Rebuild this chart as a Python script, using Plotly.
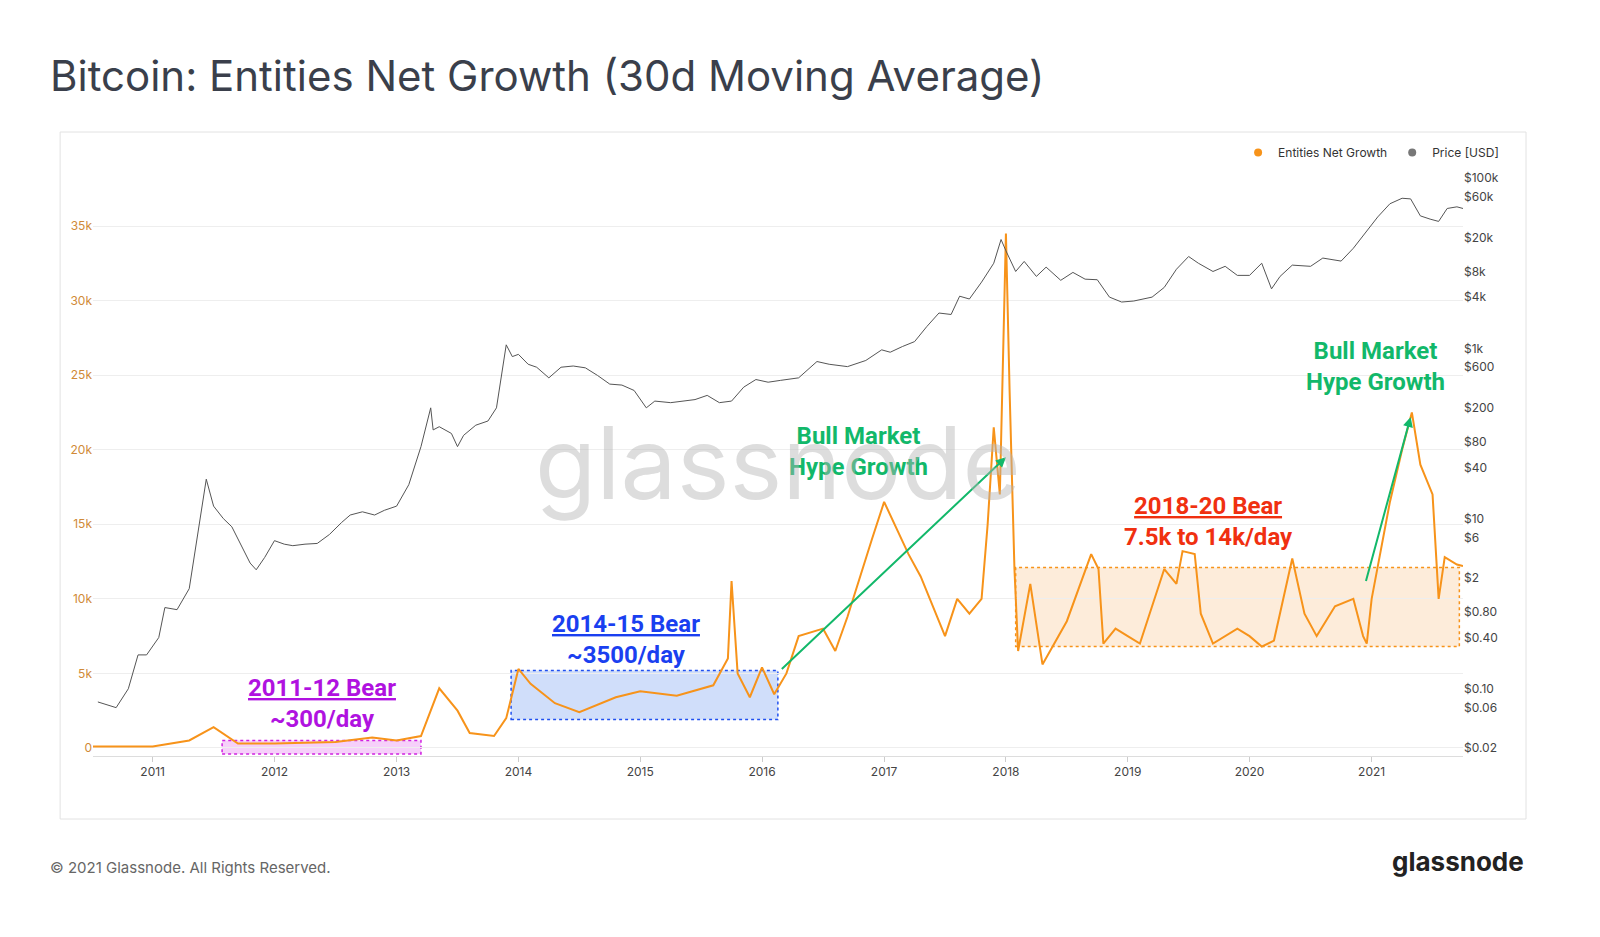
import plotly.graph_objects as go
from datetime import datetime, timedelta

def dy(y):
    yr = int(y); start = datetime(yr, 1, 1)
    return start + timedelta(days=(datetime(yr + 1, 1, 1) - start).days * (y - yr))

price_t = [2010.55,2010.62,2010.7,2010.8,2010.88,2010.95,2011.05,2011.1,2011.2,2011.3,2011.38,2011.44,2011.5,2011.58,2011.65,2011.72,2011.8,2011.85,2011.92,2012.0,2012.08,2012.15,2012.25,2012.35,2012.45,2012.55,2012.62,2012.72,2012.82,2012.9,2013.0,2013.1,2013.2,2013.28,2013.3,2013.35,2013.45,2013.5,2013.55,2013.65,2013.75,2013.82,2013.9,2013.95,2014.0,2014.08,2014.15,2014.25,2014.35,2014.45,2014.55,2014.65,2014.75,2014.85,2014.95,2015.05,2015.12,2015.25,2015.35,2015.45,2015.55,2015.65,2015.75,2015.85,2015.95,2016.05,2016.15,2016.3,2016.45,2016.55,2016.7,2016.85,2016.98,2017.05,2017.15,2017.25,2017.35,2017.45,2017.55,2017.62,2017.7,2017.8,2017.9,2017.96,2018.0,2018.08,2018.15,2018.25,2018.33,2018.45,2018.55,2018.65,2018.75,2018.85,2018.95,2019.05,2019.2,2019.3,2019.4,2019.5,2019.58,2019.7,2019.8,2019.9,2020.0,2020.1,2020.18,2020.25,2020.35,2020.5,2020.6,2020.75,2020.85,2020.95,2021.05,2021.15,2021.25,2021.32,2021.4,2021.48,2021.55,2021.62,2021.7,2021.75]
price_v = [0.07,0.065,0.06,0.1,0.25,0.25,0.4,0.9,0.85,1.5,8,29,14,10,8,5,3,2.5,3.5,5.5,5,4.8,5,5.1,6.5,9,11,12,11,12.5,14,25,70,200,110,120,100,70,95,125,140,200,1100,800,850,650,600,450,600,620,590,480,380,370,320,200,240,230,240,250,280,230,240,350,430,400,420,450,700,650,610,720,960,900,1050,1200,1800,2600,2500,4100,3800,6000,10000,19000,14000,8000,10500,7000,9000,6300,7800,6500,6400,4000,3500,3600,4000,5200,8500,12000,10000,8000,9200,7200,7200,10000,5000,7000,9500,9200,11500,10600,15000,23000,35000,50000,58000,57000,36000,33000,31000,44000,46000,44000]

growth_t = [2010.5,2011.0,2011.3,2011.5,2011.7,2012.0,2012.5,2012.8,2013.0,2013.2,2013.35,2013.5,2013.6,2013.8,2013.9,2014.0,2014.1,2014.3,2014.5,2014.8,2015.0,2015.3,2015.6,2015.72,2015.75,2015.8,2015.9,2016.0,2016.1,2016.2,2016.3,2016.5,2016.6,2016.7,2016.9,2017.0,2017.2,2017.3,2017.5,2017.6,2017.7,2017.8,2017.85,2017.9,2017.95,2018.0,2018.03,2018.07,2018.1,2018.2,2018.3,2018.5,2018.7,2018.76,2018.8,2018.9,2019.0,2019.1,2019.3,2019.4,2019.45,2019.55,2019.6,2019.7,2019.9,2020.0,2020.1,2020.2,2020.35,2020.45,2020.55,2020.7,2020.85,2020.93,2020.96,2021.0,2021.15,2021.25,2021.33,2021.4,2021.5,2021.55,2021.6,2021.7,2021.75]
growth_v = [0.1,0.1,0.5,1.4,0.3,0.3,0.4,0.7,0.5,0.8,4.0,2.5,1.0,0.8,2.0,5.3,4.3,3.0,2.4,3.4,3.8,3.5,4.2,6,11.2,5.0,3.4,5.4,3.6,5.0,7.5,8.0,6.5,8.8,14,16.5,13,11.5,7.5,10,9,10,15,21.5,17,34.5,24,12,6.5,11,5.6,8.5,13,12,7,8,7.5,7,12,11,13.2,13,9,7,8,7.5,6.8,7.2,12.7,9,7.5,9.5,10,7.5,7,10,16.5,20,22.5,19,17,10,12.8,12.3,12.2]

price_ticks = [0.02,0.06,0.1,0.4,0.8,2,6,10,40,80,200,600,1000,4000,8000,20000,60000,100000]
price_tick_text = ["$0.02","$0.06","$0.10","$0.40","$0.80","$2","$6","$10","$40","$80","$200","$600","$1k","$4k","$8k","$20k","$60k","$100k"]
growth_ticks = [0,5,10,15,20,25,30,35]
growth_tick_text = ["0","5k","10k","15k","20k","25k","30k","35k"]
year_ticks = list(range(2011, 2022))

ORANGE = "#f7931a"
fig = go.Figure()
fig.add_trace(go.Scatter(x=[dy(t) for t in price_t], y=price_v, yaxis="y2", mode="lines",
                         line=dict(color="#555", width=1), showlegend=False))
fig.add_trace(go.Scatter(x=[dy(t) for t in growth_t], y=growth_v, mode="lines",
                         line=dict(color=ORANGE, width=2), showlegend=False))
fig.add_trace(go.Scatter(x=[None], y=[None], mode="markers", marker=dict(color=ORANGE, size=8), name="Entities Net Growth"))
fig.add_trace(go.Scatter(x=[None], y=[None], mode="markers", marker=dict(color="#777", size=8), name="Price [USD]"))

def box(x0, x1, y0, y1, line, fill):
    fig.add_shape(type="rect", x0=dy(x0), x1=dy(x1), y0=y0, y1=y1, xref="x", yref="y",
                  line=dict(color=line, width=1.5, dash="dot"), fillcolor=fill, layer="below")

box(2011.57, 2013.2, -0.4, 0.5, "#d020e0", "rgba(230,120,240,0.35)")
box(2013.94, 2016.13, 1.9, 5.2, "#2050f0", "rgba(120,160,240,0.35)")
box(2018.08, 2021.72, 6.8, 12.1, ORANGE, "rgba(250,200,150,0.35)")

def arrow(x0, y0, x1, y1):
    fig.add_annotation(x=dy(x1), y=y1, ax=dy(x0), ay=y0, xref="x", yref="y", axref="x", ayref="y",
                       showarrow=True, arrowhead=2, arrowsize=1, arrowwidth=2, arrowcolor="#12b86a", text="")
arrow(2016.15, 5.2, 2018.0, 19.5)
arrow(2020.95, 11.1, 2021.32, 22.2)

def label(x, y, text, color):
    fig.add_annotation(x=dy(x), y=y, xref="x", yref="y", text=text, showarrow=False,
                       font=dict(family="Roboto", size=24, color=color), align="center")
label(2012.39, 3.0, "<b><u>2011-12 Bear</u></b><br><b>~300/day</b>", "#b012e0")
label(2014.88, 7.3, "<b><u>2014-15 Bear</u></b><br><b>~3500/day</b>", "#1a3ff0")
label(2016.79, 19.9, "<b>Bull Market</b><br><b>Hype Growth</b>", "#12b86a")
label(2019.66, 15.2, "<b><u>2018-20 Bear</u></b><br><b>7.5k to 14k/day</b>", "#f03010")
label(2021.03, 25.6, "<b>Bull Market</b><br><b>Hype Growth</b>", "#12b86a")

fig.add_annotation(x=0.5, y=0.49, xref="paper", yref="paper", text="glassnode", showarrow=False,
                   font=dict(family="Inter", size=100, color="rgba(180,180,180,0.45)"))
fig.add_annotation(x=-0.033, y=1.18, xref="paper", yref="paper", xanchor="left", text="Bitcoin: Entities Net Growth (30d Moving Average)",
                   showarrow=False, font=dict(family="Inter", size=42, color="#3a3f4b"))
fig.add_annotation(x=-0.033, y=-0.205, xref="paper", yref="paper", xanchor="left", text="© 2021 Glassnode. All Rights Reserved.",
                   showarrow=False, font=dict(family="Inter", size=15, color="#666"))
fig.add_annotation(x=1.046, y=-0.205, xref="paper", yref="paper", xanchor="right", text="<b>glassnode</b>",
                   showarrow=False, font=dict(family="Inter", size=26, color="#222"))
fig.add_shape(type="rect", xref="paper", yref="paper", x0=-0.024, x1=1.046, y0=-0.105, y1=1.04,
              line=dict(color="#e2e2e2", width=1))

fig.update_layout(
    width=1600, height=937, paper_bgcolor="white", plot_bgcolor="white",
    margin=dict(l=85, r=145, t=148, b=189), font=dict(family="Inter", color="#444"),
    legend=dict(orientation="h", x=1.03, xanchor="right", y=1.03, yanchor="top",
                font=dict(size=12, color="#333"), bgcolor="rgba(0,0,0,0)"),
    xaxis=dict(range=[dy(2010.51), dy(2021.75)], showgrid=False, tickvals=[datetime(y, 1, 1) for y in year_ticks],
               ticktext=[str(y) for y in year_ticks], tickfont=dict(size=12, color="#444"),
               showline=True, linecolor="#ddd", ticks="outside", tickcolor="#ccc", ticklen=5),
    yaxis=dict(range=[-0.54, 39.7], tickvals=growth_ticks, ticktext=growth_tick_text, gridcolor="#eeeeee",
               tickfont=dict(size=12, color="#d08a38"), zeroline=False),
    yaxis2=dict(type="log", range=[-1.79, 5.26], overlaying="y", side="right", tickvals=price_ticks,
                ticktext=price_tick_text, showgrid=False, tickfont=dict(size=12, color="#444")),
)
fig.write_html("out.html")
